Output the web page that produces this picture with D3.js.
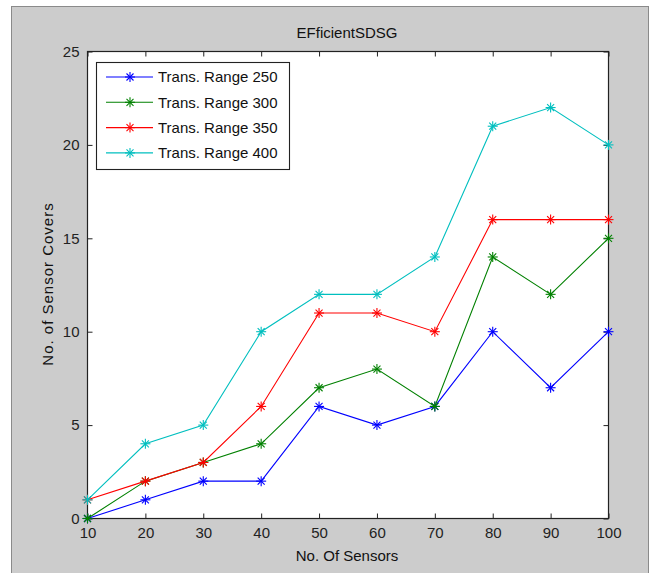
<!DOCTYPE html>
<html><head><meta charset="utf-8">
<script src="https://cdn.jsdelivr.net/npm/d3@7/dist/d3.min.js"></script>
<style>body{margin:0;background:#fff;}svg{display:block;font-family:"Liberation Sans",Arial,sans-serif;}</style>
</head><body><svg id="c" width="653" height="573"></svg>
<script>
const sensors = [10,20,30,40,50,60,70,80,90,100];
const range250 = [0,1,2,2,6,5,6,10,7,10];
const range300 = [0,2,3,4,7,8,6,14,12,15];
const range350 = [1,2,3,6,11,11,10,16,16,16];
const range400 = [1,4,5,10,12,12,14,21,22,20];
const seriesNames = ["Trans. Range 250","Trans. Range 300","Trans. Range 350","Trans. Range 400"];
const seriesColors = ["#0000ff","#008000","#ff0000","#00bfbf"];
const yTicks = [0,5,10,15,20,25];
const xTicks = [10,20,30,40,50,60,70,80,90,100];
const series = [range250,range300,range350,range400];

const svg = d3.select("#c");
// figure panel
svg.append("rect").attr("x",11.5).attr("y",6.5).attr("width",637).attr("height",580)
  .attr("fill","#cccccc").attr("stroke","#8a8a8a").attr("stroke-width",1);

const L=87.5, R=608.5, T=51.5, B=518.5;
const x = d3.scaleLinear().domain([10,100]).range([L,R]);
const y = d3.scaleLinear().domain([0,25]).range([B,T]);

svg.append("rect").attr("x",L).attr("y",T).attr("width",R-L).attr("height",B-T).attr("fill","#fff");

const g = svg.append("g");
// axes with inward ticks
const ax = (gen, tx, ty) => {
  const a = g.append("g").attr("transform",`translate(${tx},${ty})`).call(gen);
  a.select(".domain").remove();
  a.selectAll("line").attr("stroke","#222");
  return a;
};
const fs = 15;
const xb = ax(d3.axisBottom(x).tickValues(xTicks).tickSize(-5).tickPadding(9), 0, B);
xb.selectAll("text").attr("font-size",fs).attr("fill","#222").attr("font-family","Liberation Sans, Arial");
const xt = ax(d3.axisTop(x).tickValues(xTicks).tickSize(-5).tickFormat(""), 0, T);
const yl = ax(d3.axisLeft(y).tickValues(yTicks).tickSize(-5).tickPadding(8), L, 0);
yl.selectAll("text").attr("font-size",fs).attr("fill","#222").attr("font-family","Liberation Sans, Arial");
const yr = ax(d3.axisRight(y).tickValues(yTicks).tickSize(-5).tickFormat(""), R, 0);
// box
g.append("rect").attr("x",L).attr("y",T).attr("width",R-L).attr("height",B-T)
  .attr("fill","none").attr("stroke","#222").attr("stroke-width",1.2);

// star marker
function star(sel, cx, cy, col, r){
  const p = sel.append("g").attr("transform",`translate(${cx},${cy})`).attr("stroke",col).attr("stroke-width",1.1);
  p.append("line").attr("x1",-r).attr("x2",r).attr("y1",0).attr("y2",0);
  p.append("line").attr("x1",0).attr("x2",0).attr("y1",-r).attr("y2",r);
  const d = r*0.7;
  p.append("line").attr("x1",-d).attr("x2",d).attr("y1",-d).attr("y2",d);
  p.append("line").attr("x1",-d).attr("x2",d).attr("y1",d).attr("y2",-d);
}

const line = d3.line().x((d,i)=>x(sensors[i])).y(d=>y(d));
series.forEach((s,k)=>{
  g.append("path").datum(s).attr("d",line).attr("fill","none")
    .attr("stroke",seriesColors[k]).attr("stroke-width",1.1);
  s.forEach((v,i)=>star(g, x(sensors[i]), y(v), seriesColors[k], 5));
});

// legend
const lg = svg.append("g");
lg.append("rect").attr("x",96.5).attr("y",62.5).attr("width",193).attr("height",107)
  .attr("fill","#fff").attr("stroke","#222").attr("stroke-width",1.1);
seriesNames.forEach((n,k)=>{
  const ly = 77 + k*25.3;
  lg.append("line").attr("x1",106).attr("x2",153).attr("y1",ly).attr("y2",ly)
    .attr("stroke",seriesColors[k]).attr("stroke-width",1.1);
  star(lg, 130, ly, seriesColors[k], 5);
  lg.append("text").attr("x",158).attr("y",ly).attr("dy","0.36em").attr("font-size",fs)
    .attr("fill","#111").text(n);
});

// titles
svg.append("text").attr("x",347).attr("y",38).attr("text-anchor","middle").attr("font-size",fs)
  .attr("fill","#111").text("EFficientSDSG");
svg.append("text").attr("x",347).attr("y",561).attr("text-anchor","middle").attr("font-size",fs)
  .attr("fill","#111").text("No. Of Sensors");
svg.append("text").attr("transform","translate(53,284) rotate(-90)").attr("text-anchor","middle")
  .attr("font-size",fs).attr("letter-spacing","1px").attr("fill","#111").text("No. of Sensor Covers");
</script></body></html>
